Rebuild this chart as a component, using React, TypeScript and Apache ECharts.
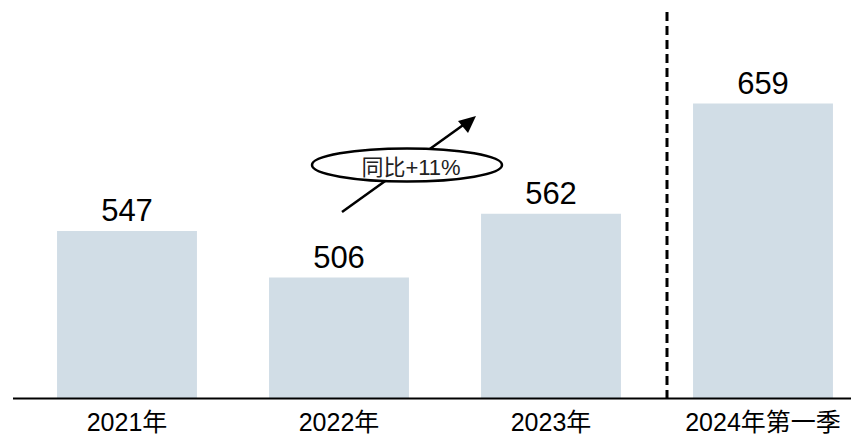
import React, { useEffect, useRef } from "react";
import * as echarts from "echarts";

const categories = ["2021年", "2022年", "2023年", "2024年第一季"];
const values = [547, 506, 562, 659];
const yoyLabel = "同比+11%";

export default function App() {
  const ref = useRef<HTMLDivElement>(null);
  useEffect(() => {
    const chart = echarts.init(ref.current!, null, { renderer: "svg" });
    chart.setOption({
      animation: false,
      backgroundColor: "#ffffff",
      grid: { left: 21, top: 57, right: 0, bottom: 38, containLabel: false },
      xAxis: {
        type: "category",
        data: categories,
        axisLine: { show: false },
        axisTick: { show: false },
        axisLabel: {
          color: "#000",
          fontSize: 25,
          fontFamily: "Liberation Sans, Noto Sans CJK SC, sans-serif",
          margin: 11,
        },
      },
      yAxis: {
        type: "value",
        min: 400,
        max: 700,
        show: false,
        splitLine: { show: false },
      },
      series: [
        {
          type: "bar",
          data: values,
          barCategoryGap: "34%",
          itemStyle: { color: "#d1dde6" },
          label: {
            show: true,
            position: "top",
            distance: 5,
            color: "#000",
            fontSize: 31,
            fontFamily: "Liberation Sans, Arial, sans-serif",
          },
        },
      ],
      graphic: [
        {
          type: "line",
          shape: { x1: 13, y1: 398.5, x2: 851, y2: 398.5 },
          style: { stroke: "#000", lineWidth: 2 },
          z: 10,
        },
        {
          type: "line",
          shape: { x1: 667, y1: 12, x2: 667, y2: 398 },
          style: { stroke: "#000", lineWidth: 3, lineDash: [9, 5] },
          z: 10,
        },
        {
          type: "line",
          shape: { x1: 342, y1: 212, x2: 466, y2: 123 },
          style: { stroke: "#000", lineWidth: 2.5 },
          z: 10,
        },
        {
          type: "polygon",
          shape: { points: [[476, 116], [458, 121], [468, 133]] },
          style: { fill: "#000" },
          z: 10,
        },
        {
          type: "ellipse",
          shape: { cx: 407, cy: 165, rx: 95, ry: 16.5 },
          style: { fill: "#fff", stroke: "#000", lineWidth: 2.5 },
          z: 11,
        },
        {
          type: "text",
          x: 411,
          y: 167,
          style: {
            text: yoyLabel,
            fill: "#222",
            fontSize: 22,
            fontFamily: "Liberation Sans, Noto Sans CJK SC, sans-serif",
            align: "center",
            verticalAlign: "middle",
          },
          z: 12,
        },
      ],
    });
    return () => chart.dispose();
  }, []);
  return (
    <div style={{ width: 851, height: 436, position: "absolute", left: 0, top: 0, overflow: "hidden" }}>
      <div ref={ref} style={{ width: 869, height: 436 }} />
    </div>
  );
}
